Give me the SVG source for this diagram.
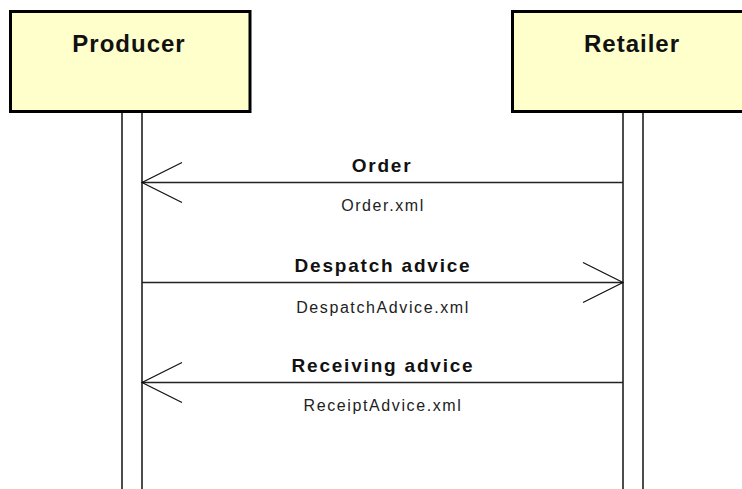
<svg xmlns="http://www.w3.org/2000/svg" width="742" height="489" viewBox="0 0 742 489">
<style>
.box{fill:#ffffcc;stroke:#000;stroke-width:3}
.life{stroke:#111;stroke-width:1.5;fill:none}
.msg{stroke:#222;stroke-width:1.5;fill:none}
.head{stroke:#111;stroke-width:1.2;fill:none}
.title{font-family:"Liberation Sans",Arial,sans-serif;font-weight:bold;font-size:24px;letter-spacing:1px;fill:#111;text-anchor:middle}
.lbl{font-family:"Liberation Sans",Arial,sans-serif;font-weight:bold;font-size:19px;letter-spacing:1.8px;fill:#111;text-anchor:middle}
.file{font-family:"Liberation Sans",Arial,sans-serif;font-size:16px;letter-spacing:1.6px;fill:#222;text-anchor:middle}
</style>
<rect width="742" height="489" fill="#fff"/>
<g id="producer">
<rect class="box" x="10.5" y="11.5" width="239.5" height="100"/>
<text class="title" x="129" y="51.5">Producer</text>
<line class="life" x1="122" y1="113" x2="122" y2="489"/>
<line class="life" x1="142" y1="113" x2="142" y2="489"/>
</g>
<g id="retailer">
<rect class="box" x="512.5" y="11.5" width="240" height="100"/>
<text class="title" x="632" y="51.5">Retailer</text>
<line class="life" x1="623" y1="113" x2="623" y2="489"/>
<line class="life" x1="643" y1="113" x2="643" y2="489"/>
</g>
<g id="connectors">
<g id="order">
<line class="msg" x1="623" y1="182.5" x2="142" y2="182.5"/>
<polyline class="head" points="182,162.5 142,182.5 182,202.5"/>
<text class="lbl" x="382" y="171.5">Order</text>
<text class="file" x="383" y="210.5">Order.xml</text>
</g>
<g id="despatch">
<line class="msg" x1="142" y1="282.5" x2="623" y2="282.5"/>
<polyline class="head" points="583,262.5 623,282.5 583,302.5"/>
<text class="lbl" x="383" y="271.5">Despatch advice</text>
<text class="file" x="383" y="312.5">DespatchAdvice.xml</text>
</g>
<g id="receiving">
<line class="msg" x1="623" y1="382.5" x2="142" y2="382.5"/>
<polyline class="head" points="182,362.5 142,382.5 182,402.5"/>
<text class="lbl" x="383" y="371.5">Receiving advice</text>
<text class="file" x="383" y="410.5">ReceiptAdvice.xml</text>
</g>
</g>
</svg>
